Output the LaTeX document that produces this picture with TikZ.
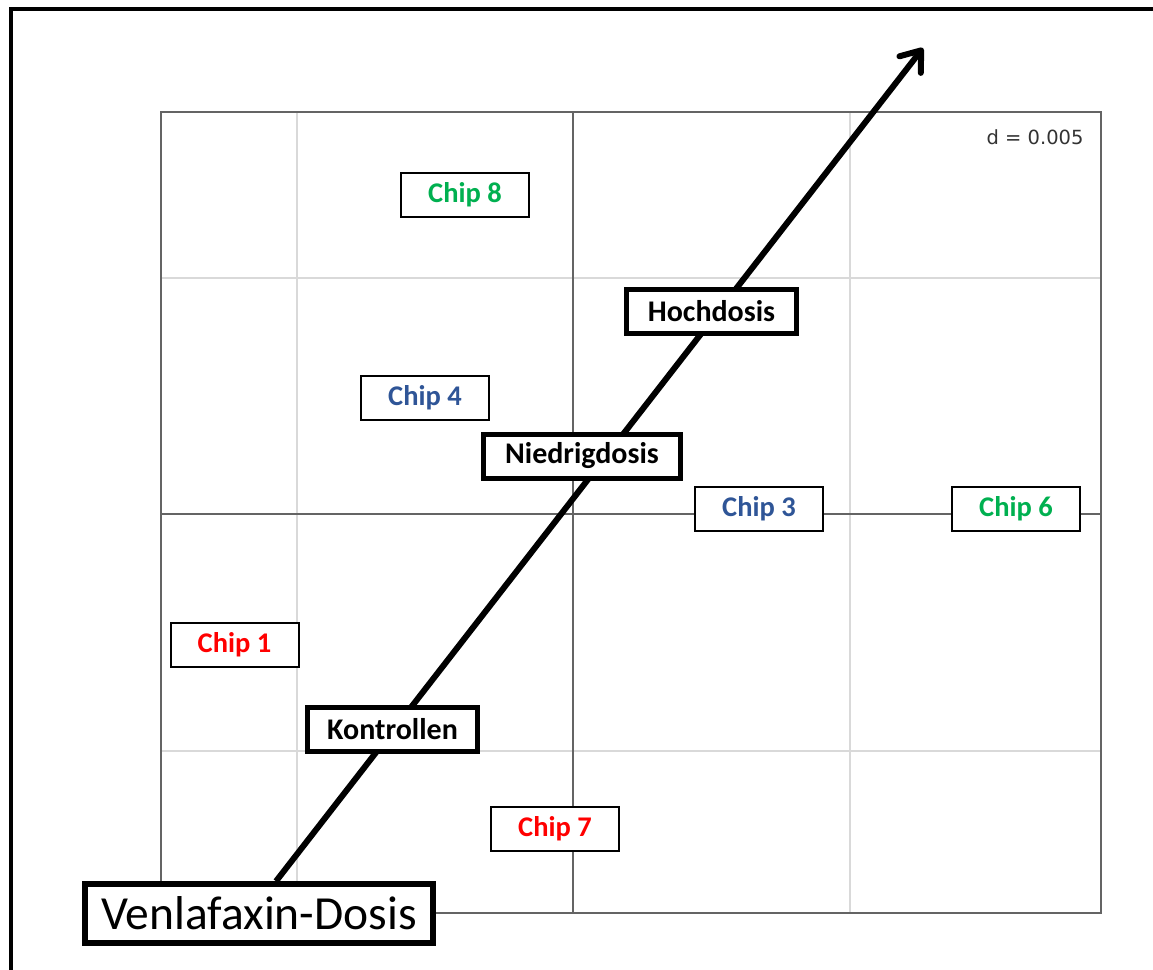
\documentclass[tikz,border=0pt]{standalone}
\usepackage{fontspec}
\setmainfont{Carlito}
\newfontfamily\statfont{DejaVu Sans}
\usetikzlibrary{arrows.meta}
\definecolor{chipred}{RGB}{255,0,0}
\definecolor{chipblue}{RGB}{47,85,151}
\definecolor{chipgreen}{RGB}{0,176,80}
\definecolor{axisgray}{RGB}{100,100,100}
\definecolor{gridgray}{RGB}{217,217,217}

\begin{document}
\begin{tikzpicture}[
  x=1pt, y=-1pt,
  box/.style={draw, fill=white, inner sep=0pt, align=center},
  chip/.style={box, line width=2pt, minimum width=128pt, minimum height=44pt, font=\fontsize{28.5}{31}\selectfont\bfseries},
  dose/.style={box, line width=5pt, minimum height=44pt, font=\fontsize{30}{33}\selectfont\bfseries},
  grid line/.style={gridgray, line width=2pt},
  axis line/.style={axisgray, line width=2.2pt},
  arr/.style={line width=6pt, -{Straight Barb[length=18pt, width=27pt, round]}}
]
\useasboundingbox (0,0) rectangle (1153,969);
\clip (0,0) rectangle (1153,969);

% outer frame, cut at right and bottom
\draw[line width=4pt] (10.5,9) rectangle (1170,990);

% grid of the map
\foreach \gx in {297,850} \draw[grid line] (\gx,112) -- (\gx,913);
\foreach \gy in {278,751} \draw[grid line] (161,\gy) -- (1101,\gy);
\draw[axis line] (573,112) -- (573,913);
\draw[axis line] (161,514) -- (1101,514);
\draw[axis line, line width=2.6pt] (161,112) rectangle (1101,913);
\node[anchor=east, font=\fontsize{19.5}{22}\statfont, text=black!80] (scale) at (1087,137) {d = 0.005};

% dose axis
\node[box, line width=5.5pt, minimum width=348pt, minimum height=59pt, font=\fontsize{47.5}{52}\selectfont] (venla) at (259,913.5) {Venlafaxin-Dosis};
\coordinate (tip) at (923,48);
\draw[arr] ([xshift=17pt]venla.north) -- (tip);

\node[dose, minimum width=170pt] (ctrl) at (392.5,729) {Kontrollen};
\node[dose, minimum width=197pt] (low) at (582,456) {Niedrigdosis};
\node[dose, minimum width=170pt] (high) at (711.5,311.5) {Hochdosis};

% chips
\node[chip, text=chipgreen] (chip8) at (465,195) {Chip 8};
\node[chip, text=chipblue] (chip4) at (425,398) {Chip 4};
\node[chip, text=chipblue] (chip3) at (759,509) {Chip 3};
\node[chip, text=chipgreen] (chip6) at (1016,509) {Chip 6};
\node[chip, text=chipred] (chip1) at (234.5,645) {Chip 1};
\node[chip, text=chipred] (chip7) at (555,829) {Chip 7};
\end{tikzpicture}
\end{document}
